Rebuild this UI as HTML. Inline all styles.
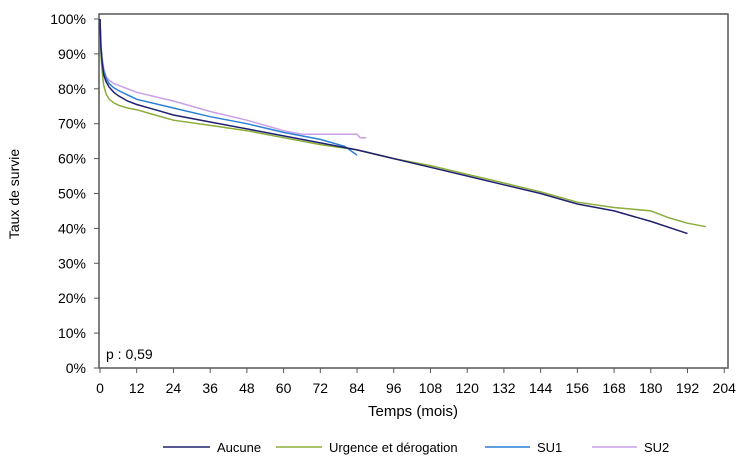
<!DOCTYPE html><html><head><meta charset="utf-8"><style>
body{margin:0;background:#fff}
svg text{font-family:"Liberation Sans",Arial,sans-serif;fill:#000}
</style></head><body>
<svg id="s" width="745" height="466" viewBox="0 0 745 466">
<rect x="99" y="14" width="629" height="354" fill="none" stroke="#555" stroke-width="1.5"/>
<g id="ax" font-size="14"></g>
<text x="19" y="194" font-size="14" text-anchor="middle" transform="rotate(-90 19 194)">Taux de survie</text>
<text x="413" y="416" font-size="15" text-anchor="middle">Temps (mois)</text>
<text x="106" y="359" font-size="14">p : 0,59</text>
<g id="cv" fill="none" stroke-width="1.5"></g>
<g font-size="13">
<line x1="163" y1="447" x2="210" y2="447" stroke="#20206e" stroke-width="1.5"/><text x="217" y="452">Aucune</text>
<line x1="276" y1="447" x2="322" y2="447" stroke="#8aad3a" stroke-width="1.5"/><text x="329" y="452">Urgence et dérogation</text>
<line x1="485" y1="447" x2="530" y2="447" stroke="#2a7fd6" stroke-width="1.5"/><text x="537" y="452">SU1</text>
<line x1="592" y1="447" x2="637" y2="447" stroke="#c9a0e8" stroke-width="1.5"/><text x="644" y="452">SU2</text>
</g>
</svg>
<script>
var X=m=>100+m*3.06,Y=p=>368-p*3.49,ax=document.getElementById('ax'),h='';
for(var p=0;p<=100;p+=10){var y=Y(p);h+=`<line x1="94" y1="${y}" x2="99" y2="${y}" stroke="#555"/><text x="86" y="${y+5}" text-anchor="end">${p}%</text>`;}
for(var m=0;m<=204;m+=12){var x=X(m);h+=`<line x1="${x}" y1="368" x2="${x}" y2="373" stroke="#555"/><text x="${x}" y="393" text-anchor="middle">${m}</text>`;}
ax.innerHTML=h;
var D={"#8aad3a":[[0,100],[0.3,90],[0.7,85],[1.2,81],[2,78.5],[3,77],[4.5,76],[6,75.3],[9,74.5],[12,74],[18,72.5],[24,71],[36,69.5],[48,68],[60,66],[72,64],[84,62.5],[96,60],[108,58],[120,55.5],[132,53],[144,50.5],[156,47.5],[168,46],[180,45],[186,43],[192,41.5],[198,40.5]],
"#c9a0e8":[[0,100],[0.3,93],[0.7,89],[1.2,86],[2,83.5],[3,82.5],[4.5,81.5],[6,81],[12,79],[24,76.5],[36,73.5],[48,71],[60,68],[66,67],[84,67],[85,66],[87,66]],
"#2a7fd6":[[0,100],[0.3,92],[0.7,88],[1.2,85],[2,83],[3,81.5],[4.5,80.3],[6,79.5],[12,77],[24,74.5],[36,72],[48,70],[60,67.5],[72,65.5],[80,63.5],[84,61]],
"#20206e":[[0,100],[0.3,92],[0.7,87.5],[1.2,84],[2,82],[3,80.5],[4.5,79],[6,78],[9,76.5],[12,75.5],[18,74],[24,72.5],[36,70.5],[48,68.5],[60,66.5],[72,64.5],[84,62.5],[96,60],[108,57.5],[120,55],[132,52.5],[144,50],[156,47],[168,45],[180,42],[192,38.5]]};
var c='';for(var k in D){c+=`<polyline stroke="${k}" points="${D[k].map(p=>X(p[0]).toFixed(1)+','+Y(p[1]).toFixed(1)).join(' ')}"/>`;}
document.getElementById('cv').innerHTML=c;
</script>
</body></html>
